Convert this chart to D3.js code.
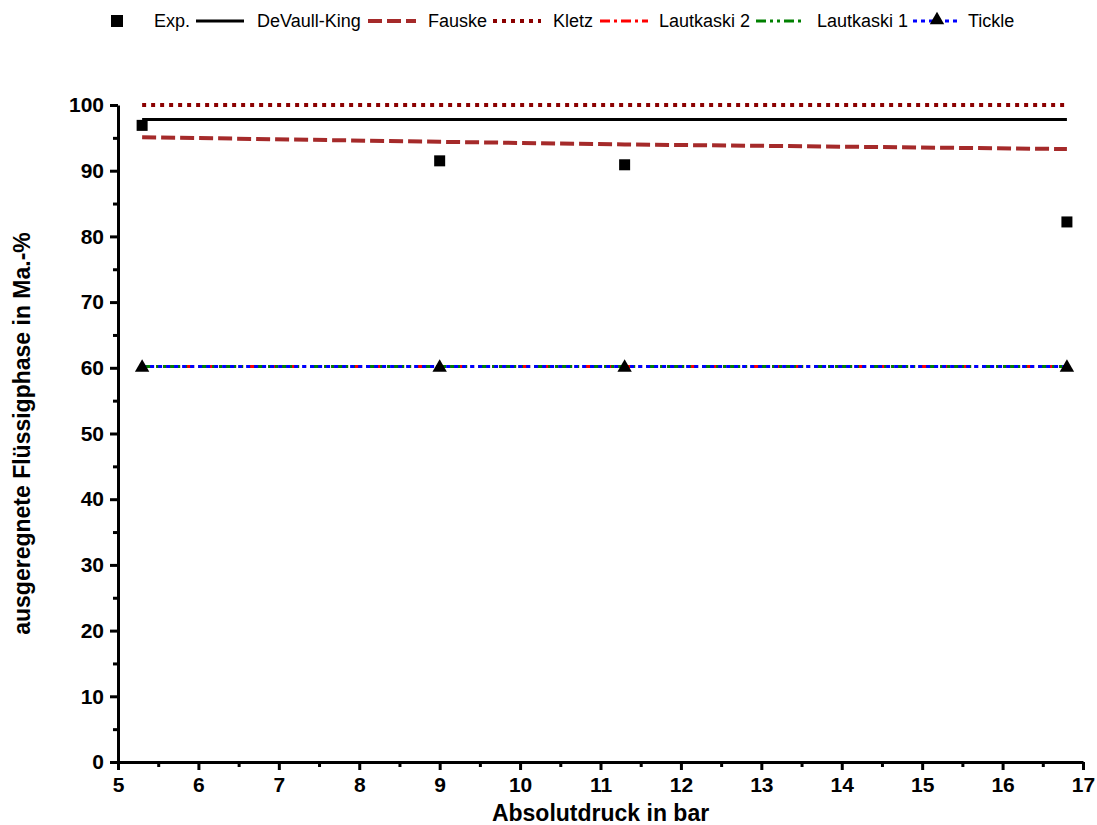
<!DOCTYPE html>
<html>
<head>
<meta charset="utf-8">
<script src="https://cdn.jsdelivr.net/npm/d3@7"></script>
<style>
  body { margin: 0; background: #fff; }
  svg text { font-family: "Liberation Sans", Arial, sans-serif; }
  .tick text { font-size: 21px; font-weight: bold; }
  .axisTitle { font-size: 23px; font-weight: bold; }
  .legend text { font-size: 18px; }
</style>
</head>
<body>
<div id="chart"></div>
<script>
const width = 1097, height = 825;

// data
const pressure = [5.3, 9, 11.3, 16.8];
const expValues = [96.9, 91.5, 90.9, 82.2];
const devaullKing = [97.8, 97.8, 97.8, 97.8];
const fauske = [95.1, 94.4, 94.0, 93.3];
const kletz = [100, 100, 100, 100];
const lautkaski2 = [60.2, 60.2, 60.2, 60.2];
const lautkaski1 = [60.2, 60.2, 60.2, 60.2];
const tickle = [60.2, 60.2, 60.2, 60.2];
const xTicks = d3.range(5, 18, 1);
const yTicks = d3.range(0, 101, 10);

const series = [
  {name: 'DeVaull-King', values: devaullKing, color: '#000000', width: 3, dash: null},
  {name: 'Fauske', values: fauske, color: '#a52a2a', width: 4, dash: '14,5'},
  {name: 'Kletz', values: kletz, color: '#8b0000', width: 4, dash: '4,5'},
  {name: 'Lautkaski 2', values: lautkaski2, color: '#ff0000', width: 3, dash: '10,4,3,4'},
  {name: 'Lautkaski 1', values: lautkaski1, color: '#008000', width: 3, dash: '10,4,3,4,3,4'},
  {name: 'Tickle', values: tickle, color: '#0000ff', width: 3, dash: '4,4'}
];

const svg = d3.select('#chart').append('svg')
  .attr('width', width).attr('height', height);

const x = d3.scaleLinear().domain([5, 17]).range([118, 1083]);
const y = d3.scaleLinear().domain([0, 100]).range([762, 105]);

// minor ticks
svg.append('g')
  .attr('transform', 'translate(0,' + y(0) + ')')
  .call(d3.axisBottom(x).tickValues(d3.range(5.5, 17, 1)).tickSize(5).tickFormat(''))
  .call(g => g.select('.domain').remove())
  .selectAll('line').attr('stroke-width', 3);
svg.append('g')
  .attr('transform', 'translate(' + x(5) + ',0)')
  .call(d3.axisLeft(y).tickValues(d3.range(5, 100, 10)).tickSize(5).tickFormat(''))
  .call(g => g.select('.domain').remove())
  .selectAll('line').attr('stroke-width', 3);

// major axes
const xAxis = svg.append('g')
  .attr('transform', 'translate(0,' + y(0) + ')')
  .call(d3.axisBottom(x).tickValues(xTicks).tickSize(8).tickSizeOuter(0).tickPadding(7));
xAxis.select('.domain').attr('stroke-width', 3);
xAxis.selectAll('.tick line').attr('stroke-width', 3);
xAxis.selectAll('.tick text').attr('fill', '#000');

const yAxis = svg.append('g')
  .attr('transform', 'translate(' + x(5) + ',0)')
  .call(d3.axisLeft(y).tickValues(yTicks).tickSize(8).tickSizeOuter(0).tickPadding(6));
yAxis.select('.domain').attr('stroke-width', 3);
yAxis.selectAll('.tick line').attr('stroke-width', 3);
yAxis.selectAll('.tick text').attr('fill', '#000');

// axis titles
svg.append('text').attr('class', 'axisTitle')
  .attr('x', (x(5) + x(17)) / 2).attr('y', 821)
  .attr('text-anchor', 'middle')
  .text('Absolutdruck in bar');
svg.append('text').attr('class', 'axisTitle')
  .attr('transform', 'translate(30,' + y(50) + ') rotate(-90)')
  .attr('text-anchor', 'middle')
  .text('ausgeregnete Flüssigphase in Ma.-%');

// lines
const line = d3.line().x((d, i) => x(pressure[i])).y(d => y(d));
series.forEach(s => {
  svg.append('path')
    .datum(s.values)
    .attr('fill', 'none')
    .attr('stroke', s.color)
    .attr('stroke-width', s.width)
    .attr('stroke-dasharray', s.dash)
    .attr('d', line);
});

// markers
const tri = d3.symbol().type(d3.symbolTriangle).size(90);
svg.selectAll('.tri')
  .data(tickle)
  .enter().append('path')
  .attr('class', 'tri')
  .attr('transform', (d, i) => 'translate(' + x(pressure[i]) + ',' + (y(d) + 1) + ')')
  .attr('d', tri)
  .attr('fill', '#000');

svg.selectAll('.sq')
  .data(expValues)
  .enter().append('rect')
  .attr('class', 'sq')
  .attr('x', (d, i) => x(pressure[i]) - 5.5)
  .attr('y', d => y(d) - 5.5)
  .attr('width', 11).attr('height', 11)
  .attr('fill', '#000');

// legend
const legend = svg.append('g').attr('class', 'legend');
const ly = 21;
legend.append('rect').attr('x', 111).attr('y', ly - 6).attr('width', 12).attr('height', 12).attr('fill', '#000');
legend.append('text').attr('x', 154).attr('y', ly + 6).text('Exp.');
const legendPos = [196, 368, 493, 600, 756, 913];
const textPos = [257, 428, 553, 659, 817, 968];
series.forEach((s, i) => {
  const x0 = legendPos[i];
  legend.append('line')
    .attr('x1', x0).attr('x2', x0 + 48)
    .attr('y1', ly).attr('y2', ly)
    .attr('stroke', s.color)
    .attr('stroke-width', s.width)
    .attr('stroke-dasharray', s.dash);
  legend.append('text').attr('x', textPos[i]).attr('y', ly + 6).text(s.name);
});
legend.append('path')
  .attr('transform', 'translate(' + 937 + ',' + (ly - 1) + ')')
  .attr('d', tri).attr('fill', '#000');
</script>
</body>
</html>
